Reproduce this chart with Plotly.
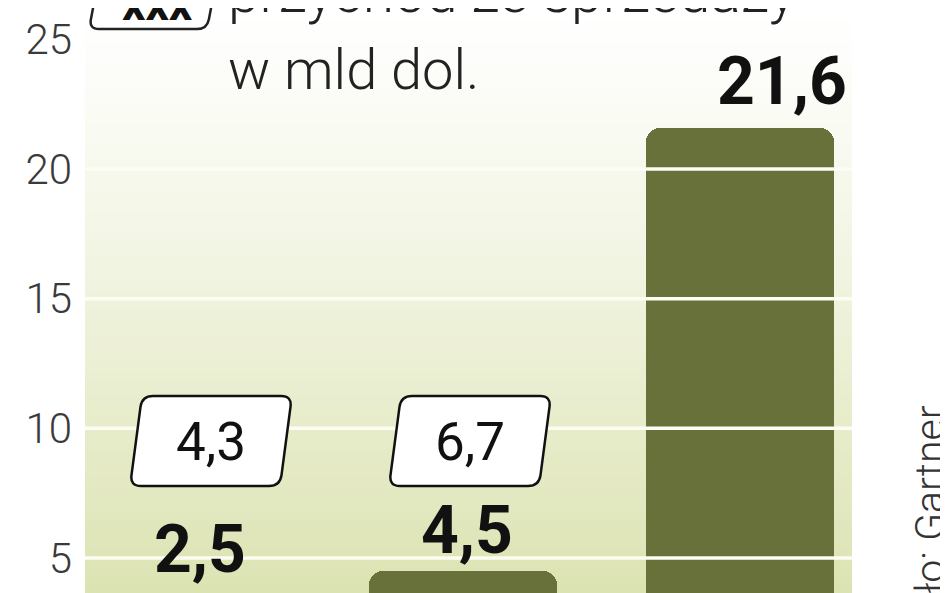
import plotly.graph_objects as go

# ---- data ----
categories = ["kat. 1", "kat. 2", "kat. 3"]
bar_values = [2.5, 4.5, 21.6]          # bold numbers above bars
box_values = [4.3, 6.7, None]          # boxed numbers: przychód ze sprzedaży w mld dol.
y_ticks = [5, 10, 15, 20, 25]

def fmt(v):
    return f"{v:.1f}".replace(".", ",")

# ---- styling ----
# the page has an 8px body margin, so the figure is 940x585 inside a 948x593 view
OFF = 8
W, H = 948 - OFF, 593 - OFF
ML, MR = 85 - OFF, 96
PW = W - ML - MR
Y_RANGE = [3.65, 26.21]
BAR_COLOR = "#68713a"
FONT = "Roboto, Liberation Sans, Arial, sans-serif"
label_xshift = [14, 4, 42]
label_yshift = [73, 40, 46]
box_xshift = [25, 7, 0]

px2x = lambda sx: (sx - OFF - ML) / PW      # screen px -> paper x
px2y = lambda sy: (H + OFF - sy) / H        # screen px -> paper y
val2paper = lambda v: (v - Y_RANGE[0]) / (Y_RANGE[1] - Y_RANGE[0])

fig = go.Figure()
fig.add_trace(go.Bar(
    x=list(range(len(categories))), y=bar_values,
    customdata=categories,
    width=0.679,
    marker=dict(color=BAR_COLOR, line=dict(width=0), cornerradius=14),
    hoverinfo="skip",
))

shapes = []
# gradient background (bands)
N = 80
top = (255, 255, 255)
bot = (220, 227, 178)
for i in range(N):
    t = (i + 0.5) / N            # 0 top -> 1 bottom
    f = t ** 1.15
    c = tuple(round(top[k] + (bot[k] - top[k]) * f) for k in range(3))
    shapes.append(dict(type="rect", xref="paper", yref="paper",
                       x0=0, x1=1, y0=1 - (i + 1) / N, y1=1 - i / N + 0.002,
                       fillcolor="rgb(%d,%d,%d)" % c, line=dict(width=0),
                       layer="below"))
# white gridlines drawn above the bars
for v in y_ticks[:-1]:
    shapes.append(dict(type="line", xref="paper", yref="y", x0=0, x1=1,
                       y0=v, y1=v, line=dict(color="#fdfdf3", width=3.5),
                       layer="above"))


def skew_box(w, h, s, r, dx=0.0):
    pts = [(-w / 2 + s / 2, h / 2), (w / 2 + s / 2, h / 2),
           (w / 2 - s / 2, -h / 2), (-w / 2 - s / 2, -h / 2)]
    pts = [(x + dx, y) for x, y in pts]
    n = len(pts)
    segs = []
    for i in range(n):
        px, py = pts[i]
        ax, ay = pts[i - 1]
        bx, by = pts[(i + 1) % n]
        da = ((ax - px) ** 2 + (ay - py) ** 2) ** 0.5
        db = ((bx - px) ** 2 + (by - py) ** 2) ** 0.5
        a = (px + r * (ax - px) / da, py + r * (ay - py) / da)
        b = (px + r * (bx - px) / db, py + r * (by - py) / db)
        segs.append((a, (px, py), b))
    d = "M %.1f,%.1f " % segs[0][0]
    for k, (a, p, b) in enumerate(segs):
        if k > 0:
            d += "L %.1f,%.1f " % a
        d += "Q %.1f,%.1f %.1f,%.1f " % (p[0], p[1], b[0], b[1])
    return d + "Z"


annotations = []
box_y_paper = px2y(441)
for i, bv in enumerate(box_values):
    if bv is None:
        continue
    shapes.append(dict(type="path", xref="x", yref="paper",
                       xsizemode="pixel", ysizemode="pixel",
                       xanchor=i, yanchor=box_y_paper,
                       path=skew_box(150, 90, 12, 11, dx=box_xshift[i]),
                       fillcolor="white", line=dict(color="#111", width=2.5),
                       layer="above"))
    annotations.append(dict(x=i, y=box_y_paper, xref="x", yref="paper",
                            xanchor="center", yanchor="middle",
                            xshift=box_xshift[i], yshift=-1,
                            text=fmt(bv), showarrow=False,
                            font=dict(family=FONT, size=53, color="#111")))

# value labels above bars (paper y from the axis range so that labels of
# bars whose top lies below the visible range still show)
for i, v in enumerate(bar_values):
    annotations.append(dict(x=i, y=val2paper(v), xref="x", yref="paper",
                            xanchor="center", yanchor="middle",
                            xshift=label_xshift[i], yshift=label_yshift[i],
                            text="<b>%s</b>" % fmt(v),
                            showarrow=False,
                            font=dict(family=FONT, size=66, color="#111")))

# legend / title
shapes.append(dict(type="path", xref="paper", yref="paper",
                   xsizemode="pixel", ysizemode="pixel",
                   xanchor=px2x(153), yanchor=px2y(3),
                   path=skew_box(118, 52, 10, 10),
                   fillcolor="white", line=dict(color="#222", width=2.5),
                   layer="above"))
annotations.append(dict(x=px2x(157), y=px2y(4), xref="paper", yref="paper",
                        xanchor="center", yanchor="middle",
                        text="<b>xxx</b>", showarrow=False,
                        font=dict(family=FONT, size=46, color="#111")))
annotations.append(dict(x=px2x(226), y=px2y(-8), xref="paper", yref="paper",
                        xanchor="left", yanchor="middle",
                        text="przychód ze sprzedaży", showarrow=False,
                        font=dict(family=FONT, size=57, color="#222",
                                  weight=300)))
annotations.append(dict(x=px2x(226), y=px2y(70), xref="paper", yref="paper",
                        xanchor="left", yanchor="middle",
                        text="w mld dol.", showarrow=False,
                        font=dict(family=FONT, size=56, color="#222",
                                  weight=300)))
# source
annotations.append(dict(x=px2x(930), y=px2y(403), xref="paper", yref="paper",
                        xanchor="center", yanchor="top", textangle=-90,
                        text="Źródło: Gartner", showarrow=False,
                        font=dict(family=FONT, size=41, color="#333",
                                  weight=300)))

fig.update_layout(
    width=W, height=H, autosize=False,
    margin=dict(l=ML, r=MR, t=0, b=0, pad=0),
    paper_bgcolor="white", plot_bgcolor="white",
    showlegend=False, bargap=0,
    shapes=shapes, annotations=annotations,
    xaxis=dict(range=[-0.3646, 2.4043], showticklabels=False, showgrid=False,
               zeroline=False, showline=False, ticks=""),
    yaxis=dict(range=Y_RANGE, tickvals=y_ticks,
               ticktext=[str(v) for v in y_ticks], showgrid=False,
               zeroline=False, showline=False, ticks="",
               ticklabelstandoff=12,
               tickfont=dict(family=FONT, size=42, color="#3a3a3a",
                             weight=300)),
)

fig.write_html("out.html")
